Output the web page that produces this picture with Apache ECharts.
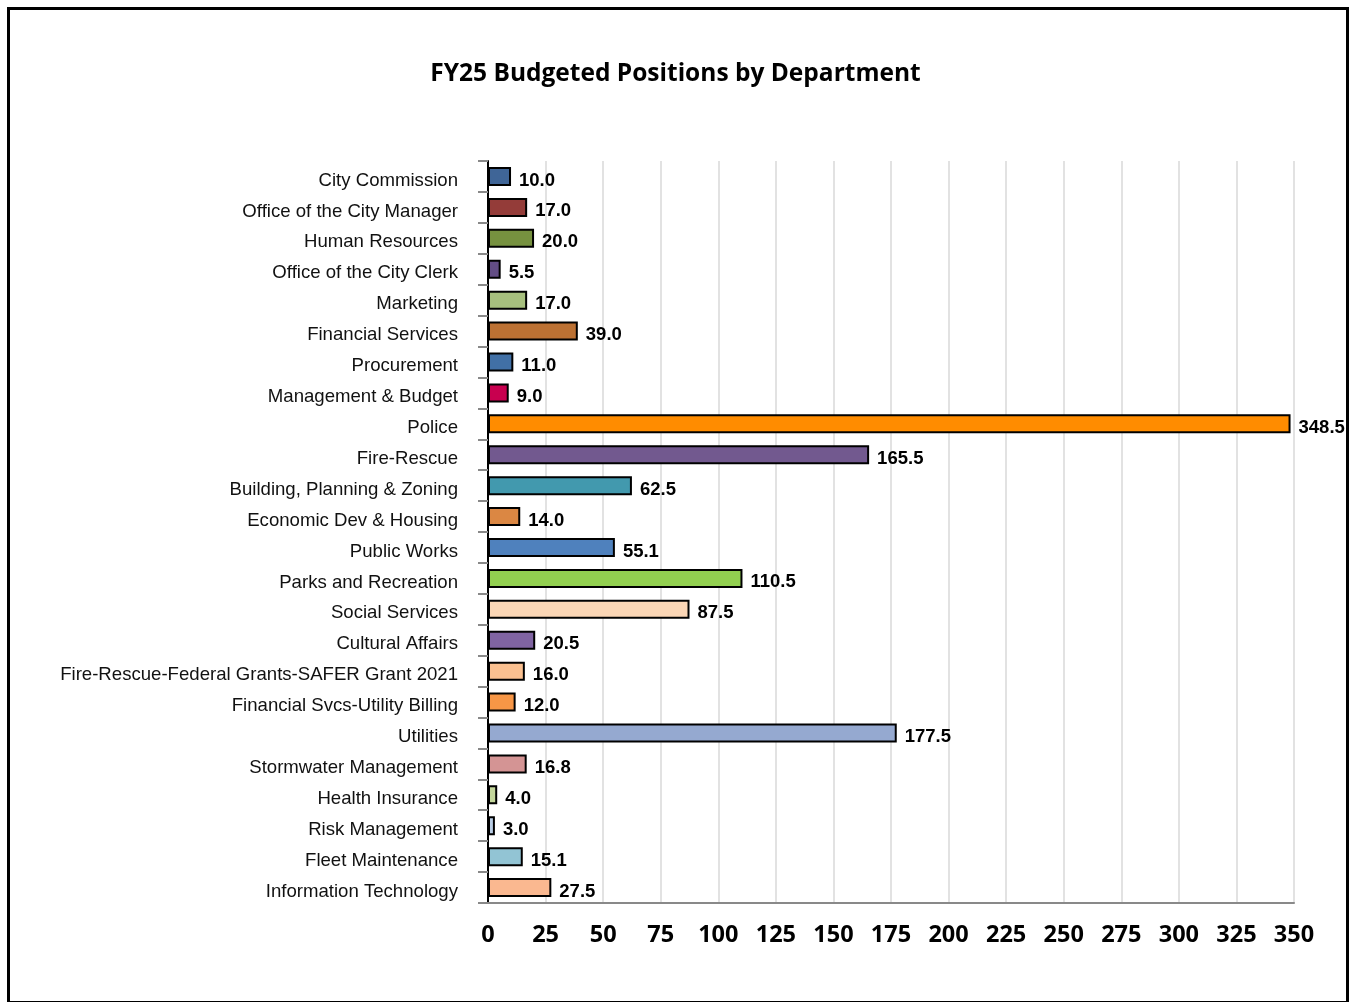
<!DOCTYPE html>
<html>
<head>
<meta charset="utf-8">
<title>FY25 Budgeted Positions by Department</title>
<script src="https://cdn.jsdelivr.net/npm/echarts@6/dist/echarts.min.js"></script>
<style>
  html, body { margin: 0; padding: 0; background: #fff; }
  #chart { position: absolute; left: 0; top: 0; width: 1351px; height: 1003px; }
  #frame {
    position: absolute; left: 7px; top: 7px; width: 1342px; height: 995px;
    border-left: 3px solid #000; border-top: 3px solid #000; border-right: 3px solid #000;
    border-bottom: 1px solid #000; box-sizing: border-box; pointer-events: none;
  }
</style>
</head>
<body>
<div id="chart"></div>
<div id="frame"></div>
<script>
// Departments, top to bottom
const departments = [
  'City Commission', 'Office of the City Manager', 'Human Resources', 'Office of the City Clerk',
  'Marketing', 'Financial Services', 'Procurement', 'Management & Budget', 'Police', 'Fire-Rescue',
  'Building, Planning & Zoning', 'Economic Dev & Housing', 'Public Works', 'Parks and Recreation',
  'Social Services', 'Cultural Affairs', 'Fire-Rescue-Federal Grants-SAFER Grant 2021',
  'Financial Svcs-Utility Billing', 'Utilities', 'Stormwater Management', 'Health Insurance',
  'Risk Management', 'Fleet Maintenance', 'Information Technology'
];

// Budgeted positions per department
const positions = [
  10.0, 17.0, 20.0, 5.5, 17.0, 39.0, 11.0, 9.0, 348.5, 165.5,
  62.5, 14.0, 55.1, 110.5, 87.5, 20.5, 16.0, 12.0, 177.5, 16.8,
  4.0, 3.0, 15.1, 27.5
];

// Fill colour of each department's bar
const barColors = [
  '#3f6597', '#943c39', '#76913f', '#634d85', '#a7c07e', '#bc7133', '#4170a6', '#c8004f',
  '#ff8c00', '#72598f', '#4299ae', '#db8743', '#4f81bd', '#92d050', '#fbd6b5', '#8064a2',
  '#fac090', '#f79646', '#95a9d0', '#d49494', '#c3d69b', '#b9cde5', '#92c4d4', '#fab890'
];

// Value axis range and step
const axisMin = 0, axisMax = 350, axisStep = 25;

const chart = echarts.init(document.getElementById('chart'), null, { renderer: 'canvas' });

chart.setOption({
  animation: false,
  backgroundColor: '#fff',
  title: {
    text: 'FY25 Budgeted Positions by Department',
    left: 'center',
    top: 57,
    textStyle: { fontFamily: 'Open Sans', fontWeight: 'bold', fontSize: 24.5, color: '#000' }
  },
  grid: { left: 488, right: 57, top: 161, bottom: 100, containLabel: false },
  xAxis: {
    type: 'value',
    min: axisMin, max: axisMax, interval: axisStep,
    axisLine: { show: true, lineStyle: { color: '#898989', width: 2 } },
    axisTick: { show: false },
    splitLine: { show: true, lineStyle: { color: '#e2e2e2', width: 2 } },
    axisLabel: {
      margin: 20,
      fontFamily: 'Open Sans', fontWeight: 'bold', fontSize: 23.5, color: '#000'
    }
  },
  yAxis: {
    type: 'category',
    data: departments,
    inverse: true,
    axisLine: { show: true, onZero: false, lineStyle: { color: '#000', width: 2 } },
    axisTick: { show: true, length: 10, lineStyle: { color: '#898989', width: 2 } },
    axisLabel: {
      margin: 30,
      formatter: v => '{t|' + v + '}',
      rich: {
        t: {
          padding: [8, 0, 0, 0],
          fontFamily: 'Liberation Sans, Arial, sans-serif', fontSize: 18.6, color: '#111'
        }
      },
      fontFamily: 'Liberation Sans, Arial, sans-serif', fontSize: 18.6, color: '#111'
    }
  },
  series: [{
    type: 'bar',
    data: positions.map((v, i) => ({
      value: v,
      itemStyle: { color: barColors[i] }
    })),
    barWidth: 19,
    itemStyle: { borderColor: '#000', borderWidth: 2 },
    label: {
      show: true,
      position: 'right',
      distance: 8,
      offset: [0, 4],
      formatter: p => p.value.toFixed(1),
      fontFamily: 'Liberation Sans, Arial, sans-serif',
      fontWeight: 'bold', fontSize: 18.5, color: '#000'
    }
  }]
});
</script>
</body>
</html>
